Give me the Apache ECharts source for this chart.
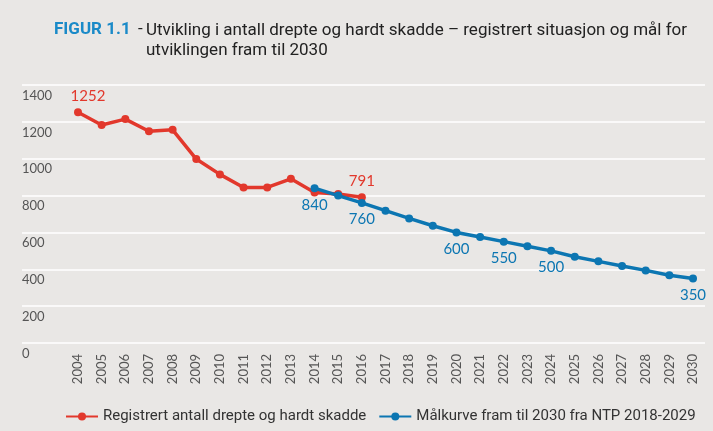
<!DOCTYPE html>
<html>
<head>
<meta charset="utf-8">
<script src="https://cdn.jsdelivr.net/npm/echarts@6/dist/echarts.min.js"></script>
<style>
html,body{margin:0;padding:0;background:#e9e7e5;}
#chart{width:713px;height:431px;}
</style>
</head>
<body>
<div id="chart"></div>
<script>
var years = ['2004','2005','2006','2007','2008','2009','2010','2011','2012','2013','2014','2015','2016','2017','2018','2019','2020','2021','2022','2023','2024','2025','2026','2027','2028','2029','2030'];
var registrert = [1252,1183,1215,1149,1157,998,915,844,844,891,817,808,791,null,null,null,null,null,null,null,null,null,null,null,null,null,null];
var malkurve = [null,null,null,null,null,null,null,null,null,null,840,800,760,718,676,636,600,575,550,525,500,468,443,418,394,368,350];
var registrertLabelYears = ['2004','2016'];
var malkurveLabelYears = ['2014','2016','2020','2022','2024','2030'];
var yTicks = [0,200,400,600,800,1000,1200,1400];
var seriesNames = ['Registrert antall drepte og hardt skadde','Målkurve fram til 2030 fra NTP 2018-2029'];

var RED = '#e2382c', BLUE = '#0c76b2';
var TFONT = 'Roboto';

function buildData(values, labelYears, pos, color){
  return values.map(function(v,i){
    var item = {value: v};
    if (v !== null && labelYears.indexOf(years[i]) >= 0) {
      item.label = {show: true, position: pos, color: color, fontSize: 15, fontFamily: 'Lato', distance: 5};
      if (i === 0) item.label.offset = [10, 0];
    }
    return item;
  });
}

var chart = echarts.init(document.getElementById('chart'));
chart.setOption({
  backgroundColor: '#e9e7e5',
  animation: false,
  title: [
    {text: 'FIGUR 1.1', left: 49, top: 16, textStyle: {color: '#1a8ac8', fontSize: 17, fontWeight: 'bold', fontFamily: TFONT}},
    {text: '-', left: 133, top: 16, textStyle: {color: '#222', fontSize: 17, fontWeight: 'normal', fontFamily: TFONT}},
    {text: 'Utvikling i antall drepte og hardt skadde – registrert situasjon og mål for\nutviklingen fram til 2030', left: 141, top: 16,
     textStyle: {color: '#222', fontSize: 17, fontWeight: 'normal', fontFamily: TFONT, lineHeight: 20}}
  ],
  legend: {
    left: 60, bottom: 2, width: 653,
    itemWidth: 32, itemHeight: 10, itemGap: 12,
    textStyle: {fontSize: 15, color: '#333', fontFamily: TFONT},
    data: seriesNames
  },
  grid: [
    {left: 78, right: 20, top: 85, bottom: 88},
    {left: 22, right: 8, top: 85, bottom: 88}
  ],
  xAxis: [
    {type: 'category', gridIndex: 0, data: years, boundaryGap: false,
     axisLine: {show: false}, axisTick: {show: false}, splitLine: {show: false},
     axisLabel: {rotate: 90, margin: 11, fontSize: 13, color: '#555', fontFamily: 'Lato', interval: 0}},
    {type: 'value', gridIndex: 1, show: false, min: 0, max: 1}
  ],
  yAxis: [
    {type: 'value', gridIndex: 0, min: yTicks[0], max: yTicks[yTicks.length-1], interval: 200, show: false},
    {type: 'value', gridIndex: 1, min: yTicks[0], max: yTicks[yTicks.length-1], interval: 200,
     axisLine: {show: false}, axisTick: {show: false},
     splitLine: {show: true, lineStyle: {color: '#ffffff', width: 1.5}},
     axisLabel: {inside: true, margin: 0, verticalAlign: 'top', lineHeight: 21, fontSize: 13, color: '#555', fontFamily: 'Lato',
                 formatter: function(v){ return String(v); }}}
  ],
  series: [
    {name: seriesNames[0], type: 'line', xAxisIndex: 0, yAxisIndex: 0,
     data: buildData(registrert, registrertLabelYears, 'top', RED),
     symbol: 'circle', symbolSize: 8, showSymbol: true,
     lineStyle: {color: RED, width: 3.5}, itemStyle: {color: RED}, z: 3},
    {name: seriesNames[1], type: 'line', xAxisIndex: 0, yAxisIndex: 0,
     data: buildData(malkurve, malkurveLabelYears, 'bottom', BLUE),
     symbol: 'circle', symbolSize: 8, showSymbol: true,
     lineStyle: {color: BLUE, width: 3.5}, itemStyle: {color: BLUE}, z: 4}
  ]
});
</script>
</body>
</html>
